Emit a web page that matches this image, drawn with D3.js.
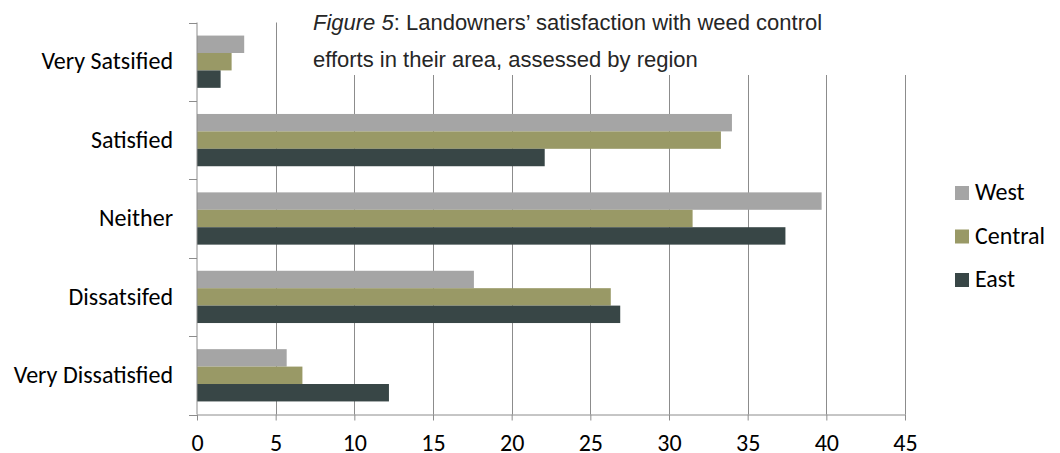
<!DOCTYPE html>
<html><head><meta charset="utf-8">
<script src="https://cdn.jsdelivr.net/npm/d3@7"></script>
<style>
html,body{margin:0;padding:0;background:#fff;}
svg{display:block;}
</style></head>
<body>
<svg id="chart" width="1060" height="453"></svg>
<script>
const categories = ["Very Satsified", "Satisfied", "Neither", "Dissatsifed", "Very Dissatisfied"];
const seriesNames = ["West", "Central", "East"];
const westValues    = [3.0, 34.0, 39.7, 17.6, 5.7];
const centralValues = [2.2, 33.3, 31.5, 26.3, 6.7];
const eastValues    = [1.5, 22.1, 37.4, 26.9, 12.2];
const xTicks = [0, 5, 10, 15, 20, 25, 30, 35, 40, 45];
const titleLine1Italic = "Figure 5";
const titleLine1Rest = ": Landowners\u2019 satisfaction with weed control";
const titleLine2 = "efforts in their area, assessed by region";

(function () {
const seriesValues = [westValues, centralValues, eastValues];
const colors = ["#a5a5a5", "#999966", "#384646"];

const svg = d3.select("#chart");
const pL = 197, pR = 905, pT = 22.5, pB = 414.5;
const labelFont = "Calibri, Carlito, 'Open Sans', sans-serif";
const labelSize = 24;

const x = d3.scaleLinear().domain([0, 45]).range([pL, pR]);
const y = d3.scaleBand().domain(categories).range([pT, pB]).padding(0);
const ys = d3.scaleBand().domain(seriesNames)
  .range([y.bandwidth() / 6, y.bandwidth() * 5 / 6]).padding(0);

// gridlines
svg.append("g").selectAll("line").data(xTicks.filter(d => d > 0)).join("line")
  .attr("x1", d => Math.round(x(d)) + 0.5).attr("x2", d => Math.round(x(d)) + 0.5)
  .attr("y1", pT).attr("y2", pB)
  .attr("stroke", "#8c8c8c").attr("stroke-width", 1);

// bars
const rows = [];
categories.forEach((c, i) => seriesNames.forEach((s, j) => rows.push({c, s, v: seriesValues[j][i], j})));
svg.append("g").selectAll("rect").data(rows).join("rect")
  .attr("x", x(0))
  .attr("y", d => y(d.c) + ys(d.s))
  .attr("width", d => x(d.v) - x(0))
  .attr("height", ys.bandwidth())
  .attr("fill", d => colors[d.j]);

// title box covering gridlines
svg.append("rect").attr("x", 292).attr("y", 0).attr("width", 625).attr("height", 75).attr("fill", "#fff");

// x axis
const xAxis = svg.append("g").attr("transform", `translate(0,${pB})`)
  .call(d3.axisBottom(x).tickValues(xTicks).tickSize(6).tickSizeOuter(0).tickPadding(13));
xAxis.select(".domain").attr("stroke", "#8c8c8c");
xAxis.selectAll(".tick line").attr("stroke", "#8c8c8c");
xAxis.selectAll("text").attr("font-family", labelFont).attr("font-size", labelSize).attr("fill", "#000");

// y axis
const yAxis = svg.append("g").attr("transform", `translate(${pL},0)`)
  .call(d3.axisLeft(y).tickSize(0).tickPadding(24));
yAxis.select(".domain").attr("stroke", "#8c8c8c").attr("d", `M0,${pT}V${pB}`);
yAxis.selectAll("text").attr("font-family", labelFont).attr("font-size", labelSize).attr("fill", "#000");
// boundary ticks
const bounds = categories.map(c => y(c)).concat([pB]);
svg.append("g").selectAll("line").data(bounds).join("line")
  .attr("x1", pL - 8).attr("x2", pL)
  .attr("y1", d => Math.round(d) + 0.5).attr("y2", d => Math.round(d) + 0.5)
  .attr("stroke", "#8c8c8c");

// title
const titleFont = "'Liberation Sans Narrow', 'Arial Narrow', 'Liberation Sans', sans-serif";
const t1 = svg.append("text").attr("x", 313).attr("y", 30)
  .attr("font-family", titleFont).attr("font-size", 22).attr("fill", "#262626");
t1.append("tspan").attr("font-style", "italic").text(titleLine1Italic);
t1.append("tspan").text(titleLine1Rest);
svg.append("text").attr("x", 313).attr("y", 66.5)
  .attr("font-family", titleFont).attr("font-size", 22).attr("fill", "#262626").text(titleLine2);

// legend
const lg = svg.append("g").selectAll("g").data(seriesNames).join("g")
  .attr("transform", (d, i) => `translate(955,${186 + i * 43.5})`);
lg.append("rect").attr("width", 14).attr("height", 14).attr("fill", (d, i) => colors[i]);
lg.append("text").attr("x", 20).attr("y", 14)
  .attr("font-family", labelFont).attr("font-size", labelSize).attr("fill", "#000").text(d => d);
})();
</script>
</body></html>
